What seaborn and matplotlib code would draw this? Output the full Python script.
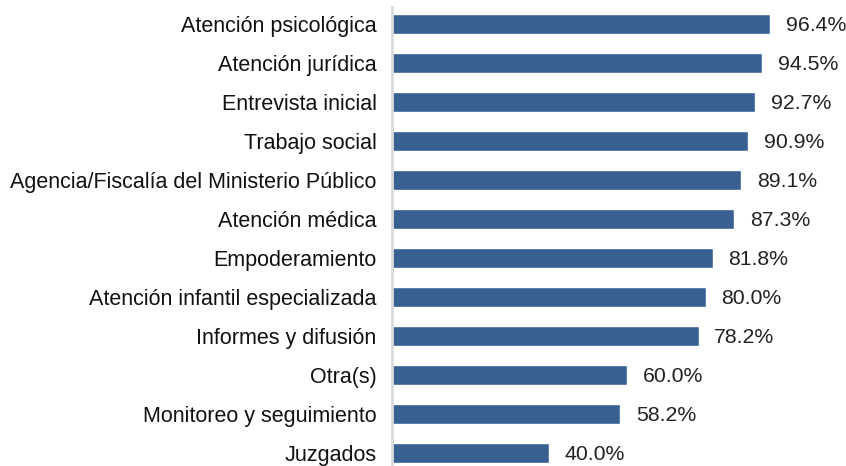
import matplotlib
matplotlib.use("Agg")
import matplotlib.pyplot as plt
import seaborn as sns
import pandas as pd

categorias = [
    "Atención psicológica",
    "Atención jurídica",
    "Entrevista inicial",
    "Trabajo social",
    "Agencia/Fiscalía del Ministerio Público",
    "Atención médica",
    "Empoderamiento",
    "Atención infantil especializada",
    "Informes y difusión",
    "Otra(s)",
    "Monitoreo y seguimiento",
    "Juzgados",
]
porcentajes = [96.4, 94.5, 92.7, 90.9, 89.1, 87.3, 81.8, 80.0, 78.2, 60.0, 58.2, 40.0]

df = pd.DataFrame({"categoria": categorias, "pct": porcentajes})

sns.set_style("white")
plt.rcParams["font.family"] = ["Liberation Sans", "DejaVu Sans"]

fig = plt.figure(figsize=(8.46, 4.66), dpi=100)
ax = fig.add_axes([392 / 846, 0, 1 - 392 / 846, 1 - 7 / 466])

sns.barplot(data=df, x="pct", y="categoria", color="#386192", width=0.52,
            saturation=1, ax=ax)

# etiquetas de valor
for i, v in enumerate(porcentajes):
    ax.text(v + 4.0, i + 0.04, f"{v:.1f}%", va="center", ha="left", fontsize=15.3, color="#222222")

ax.set_xlim(0, 454 / 3.92)
ax.set_ylim(11.34, -0.44)
ax.set_xlabel("")
ax.set_ylabel("")
ax.set_xticks([])
ax.tick_params(axis="y", length=0, labelsize=15.5, pad=11, colors="#111111")
for s in ["top", "right", "bottom"]:
    ax.spines[s].set_visible(False)
ax.spines["left"].set_color("#d9d9d9")
ax.spines["left"].set_linewidth(2)

fig.savefig("out.png", dpi=100)
